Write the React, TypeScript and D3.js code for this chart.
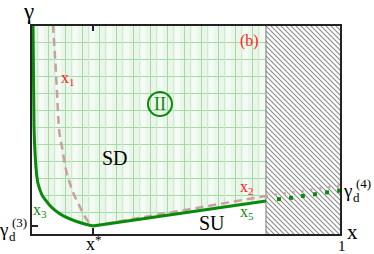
import React from 'react'
import * as d3 from 'd3'

// green boundary: x3 branch down to x*, then the straight x5 line to the hatched edge
const greenX = [0.0065, 0.0097, 0.019, 0.029, 0.052, 0.094, 0.135, 0.2]
const greenY = [10, 5.14, 2.76, 2.14, 1.57, 1.0, 0.71, 0.43]
const greenLineX = [0.2, 0.758]
const greenLineY = [0.43, 1.62]
// dashed x1 branch and the x2 line
const dashX = [0.071, 0.081, 0.09, 0.1, 0.113, 0.126, 0.158, 0.181, 0.2]
const dashY = [10, 7.62, 5.14, 4.19, 3.1, 2.43, 1.33, 0.71, 0.43]
const dashLineX = [0.2, 0.758]
const dashLineY = [0.43, 1.86]
// dotted continuations inside the hatched part
const pinkDotX = [0.758, 1.0]
const pinkDotY = [1.86, 2.36]
const greenDotX = [0.8, 0.839, 0.877, 0.916, 0.955, 0.994]
const greenDotY = [1.71, 1.77, 1.86, 1.94, 2.03, 2.11]
const xStar = 0.2
const xHatch = 0.758
const gammaD3 = 0.43

const W = 374
const H = 254

const pts = (xs: number[], ys: number[]) => xs.map((v, i) => [v, ys[i]] as [number, number])

export default function App() {
  const x = d3.scaleLinear().domain([0, 1]).range([31, 341])
  const y = d3.scaleLinear().domain([0, 10]).range([235, 25])

  const curve = d3
    .line<[number, number]>()
    .x(d => x(d[0]))
    .y(d => y(d[1]))
    .curve(d3.curveMonotoneX)
  const straight = d3
    .line<[number, number]>()
    .x(d => x(d[0]))
    .y(d => y(d[1]))

  const green = pts(greenX, greenY)
  const greenLine = pts(greenLineX, greenLineY)
  const dash = pts(dashX, dashY)
  const dashLine = pts(dashLineX, dashLineY)
  const pink = pts(pinkDotX, pinkDotY)

  // region above the green boundary
  const fillD =
    (curve(green) ?? '') +
    'L' + x(greenLineX[1]) + ',' + y(greenLineY[1]) +
    'L' + x(xHatch) + ',' + y(10) +
    'L' + x(0) + ',' + y(10) + 'Z'

  const gcol = '#0a8a0a'
  const pcol = '#c9a0a0'
  const red = '#ff2020'

  return (
    <svg width={W} height={H} style={{ position: 'absolute', left: 0, top: 0 }}>
      <style>{`text { font-family: "Liberation Serif", "Times New Roman", Tinos, serif; }`}</style>
      <defs>
        <pattern id="grid" width="17" height="17" patternUnits="userSpaceOnUse" x={x(0)} y={y(10)}>
          <rect width="17" height="17" fill="#e9f6e9" />
          <rect x="8" width="5" height="17" fill="#f4fbf4" />
          <line x1="0" y1="0.5" x2="17" y2="0.5" stroke="#a6d9a6" strokeWidth="1" />
          <line x1="0.5" y1="0" x2="0.5" y2="17" stroke="#a6d9a6" strokeWidth="1" />
          <line x1="6.5" y1="0" x2="6.5" y2="17" stroke="#cdeccd" strokeWidth="1" />
        </pattern>
        <pattern id="hatch" width="5" height="5" patternUnits="userSpaceOnUse">
          <rect width="5" height="5" fill="#fff" />
          <line x1="-1" y1="-1" x2="6" y2="6" stroke="#8a8a8a" strokeWidth="1.1" />
          <line x1="-1" y1="4" x2="1" y2="6" stroke="#8a8a8a" strokeWidth="1.1" />
          <line x1="4" y1="-1" x2="6" y2="1" stroke="#8a8a8a" strokeWidth="1.1" />
        </pattern>
      </defs>

      <path d={fillD} fill="url(#grid)" />
      <rect x={x(xHatch)} y={y(10)} width={x(1) - x(xHatch)} height={y(0) - y(10)} fill="url(#hatch)" />
      <line x1={x(xHatch)} x2={x(xHatch)} y1={y(10)} y2={y(0)} stroke="#777" strokeWidth="1" />

      <path d={curve(dash) ?? ''} fill="none" stroke={pcol} strokeWidth="2.5" strokeDasharray="8,5" />
      <path d={straight(dashLine) ?? ''} fill="none" stroke={pcol} strokeWidth="2.5" strokeDasharray="8,5" />
      <path d={straight(pink) ?? ''} fill="none" stroke={pcol} strokeWidth="2.5" strokeDasharray="2,7" />
      <path d={curve(green) ?? ''} fill="none" stroke={gcol} strokeWidth="3" />
      <path d={straight(greenLine) ?? ''} fill="none" stroke={gcol} strokeWidth="3" />
      {greenDotX.map((v, i) => (
        <rect key={i} x={x(v) - 2} y={y(greenDotY[i]) - 2} width="4" height="4" fill={gcol} />
      ))}

      <rect x={x(0)} y={y(10)} width={x(1) - x(0)} height={y(0) - y(10)} fill="none" stroke="#222" strokeWidth="2" />
      <line x1={x(xStar)} x2={x(xStar)} y1={y(10)} y2={y(10) + 6} stroke="#222" strokeWidth="2" />
      <line x1={x(xStar)} x2={x(xStar)} y1={y(0)} y2={y(0) - 7} stroke="#222" strokeWidth="2" />
      <line x1={x(0)} x2={x(0) + 7} y1={y(gammaD3)} y2={y(gammaD3)} stroke="#222" strokeWidth="2" />

      <text x={24} y={19} fontSize="23">γ</text>
      <text x={61} y={83} fontSize="16" fill={red}>x<tspan fontSize="11" dy="3">1</tspan></text>
      <text x={240} y={46} fontSize="16" fill={red}>(b)</text>
      <circle cx={160} cy={104} r={12} fill="none" stroke={gcol} strokeWidth="2" />
      <text x={160} y={110} fontSize="18" fill={gcol} textAnchor="middle">II</text>
      <text x={102} y={165} fontSize="20">SD</text>
      <text x={199} y={230} fontSize="20">SU</text>
      <text x={33} y={215} fontSize="16" fill={gcol}>x<tspan fontSize="11" dy="3">3</tspan></text>
      <text x={240} y={192} fontSize="16" fill={red}>x<tspan fontSize="11" dy="3">2</tspan></text>
      <text x={240} y={217} fontSize="16" fill={gcol}>x<tspan fontSize="11" dy="3">5</tspan></text>

      <text x={0} y={236} fontSize="19">γ</text>
      <text x={9} y={241} fontSize="13">d</text>
      <text x={12} y={227} fontSize="13">(3)</text>
      <text x={344} y={197} fontSize="19">γ</text>
      <text x={353} y={202} fontSize="13">d</text>
      <text x={356} y={188} fontSize="13">(4)</text>
      <text x={86} y={250} fontSize="18">x<tspan fontSize="13" dy="-6">*</tspan></text>
      <text x={347} y={239} fontSize="21">x</text>
      <text x={338} y={251} fontSize="15">1</text>
    </svg>
  )
}
